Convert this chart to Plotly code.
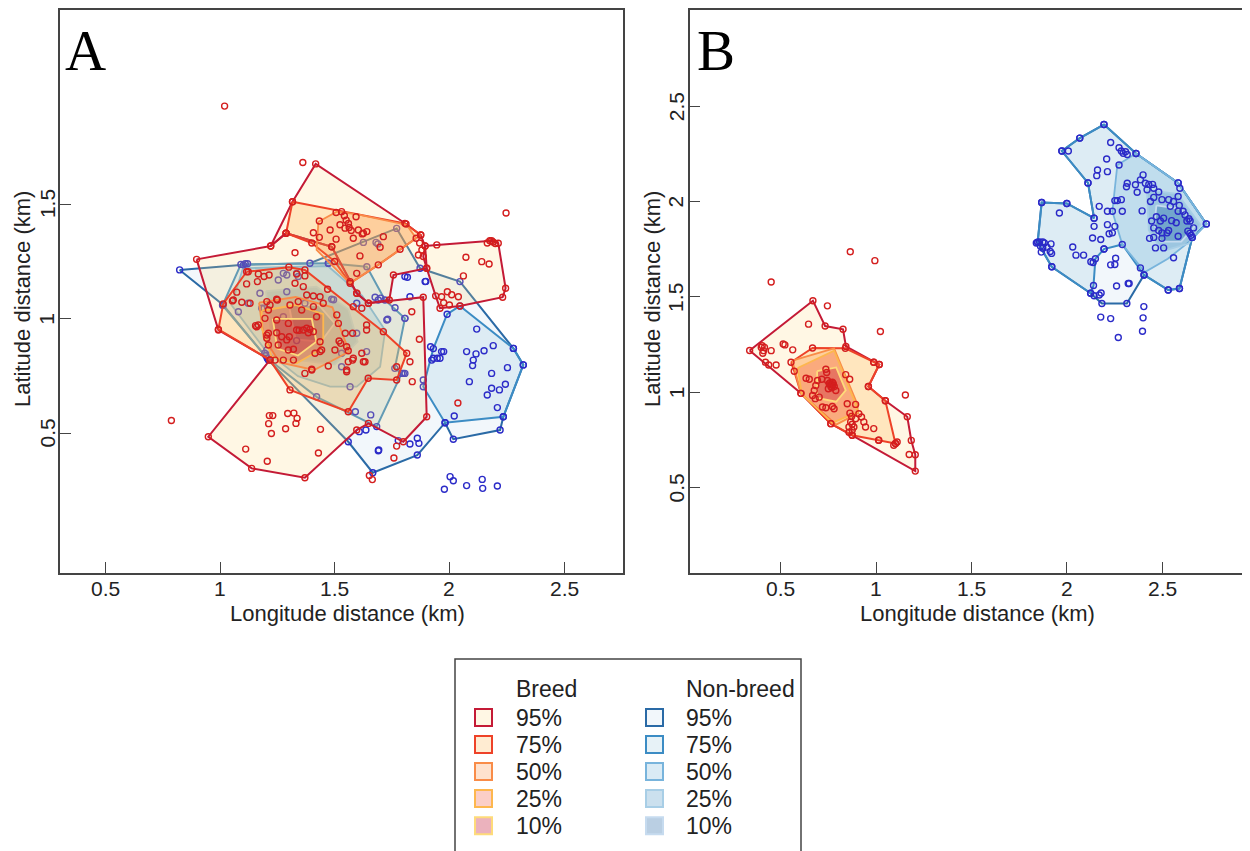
import plotly.graph_objects as go

FONT = "Arial, 'Liberation Sans', sans-serif"
SERIF = "'Times New Roman', 'Liberation Serif', serif"

# ---------------- Panel A : breeding season hulls (km) ----------------
A_B95_TOP = [(1.221,1.317),(1.316,1.510),(1.417,1.675),(1.811,1.413),(1.875,1.365),(1.894,1.317),
             (1.886,1.271),(1.901,1.220),(1.756,1.191),(1.738,1.082),(1.647,1.068),(1.596,1.111),
             (1.487,1.314),(1.288,1.373)]
A_B95_MAIN = [(0.898,1.259),(1.221,1.317),(1.288,1.373),(1.487,1.314),(1.596,1.111),(1.647,1.068),
              (1.886,1.094),(1.901,0.573),(1.799,0.464),(1.647,0.544),(1.596,0.515),(1.370,0.307),
              (1.138,0.348),(0.949,0.486),(1.218,0.821),(0.993,0.951)]
A_B95_EAST = [(1.894,1.317),(1.945,1.322),(2.184,1.340),(2.213,1.329),(2.245,1.133),(2.232,1.094),
              (2.046,1.056),(1.959,1.046),(1.940,1.100),(1.901,1.220)]
A_B75_TOP = [(1.316,1.510),(1.806,1.416),(1.875,1.365),(1.855,1.351),(1.690,1.235),(1.567,1.155),
             (1.500,1.250),(1.400,1.330),(1.288,1.373)]
A_B75_CORE = [(1.116,1.205),(1.300,1.225),(1.370,1.213),(1.712,0.944),(1.814,0.850),(1.770,0.733),
              (1.646,0.741),(1.559,0.595),(1.305,0.690),(1.218,0.820),(0.993,0.954),(1.014,1.065)]
A_B50_TOP = [(1.429,1.423),(1.509,1.467),(1.600,1.455),(1.814,1.409),(1.855,1.351),(1.690,1.235),
             (1.567,1.155),(1.421,1.300)]
A_B50_CORE = [(1.170,1.070),(1.330,1.095),(1.490,1.050),(1.520,0.970),(1.563,0.857),(1.509,0.828),
              (1.410,0.777),(1.260,0.810),(1.190,0.920)]
A_B25 = [(1.182,1.035),(1.330,1.060),(1.450,1.020),(1.450,0.920),(1.436,0.864),(1.334,0.806),
         (1.225,0.835),(1.182,0.960)]
A_B10 = [(1.230,1.000),(1.400,1.000),(1.420,0.900),(1.340,0.840),(1.250,0.870)]

# ---------------- Panel A : non-breeding season hulls (km) ----------------
A_N95 = [(0.824,1.213),(1.102,1.235),(1.392,1.242),(1.770,1.394),(1.872,1.220),(2.046,1.162),
         (2.279,0.871),(2.322,0.799),(2.235,0.573),(2.221,0.515),(2.017,0.475),(1.981,0.547),
         (1.860,0.406),(1.666,0.329),(1.559,0.464),(1.211,0.820),(1.014,1.060)]
A_N75_EAST = [(2.046,1.056),(2.279,0.871),(2.322,0.799),(2.235,0.573),(1.981,0.547),(1.886,0.704),
              (1.930,0.870),(1.990,1.020)]
A_N75_CORE = [(1.091,1.237),(1.473,1.242),(1.640,1.227),(1.719,1.082),(1.806,1.002),(1.762,0.784),
              (1.792,0.762),(1.683,0.530),(1.421,0.660),(1.206,0.828),(1.011,1.059)]
A_N50 = [(1.100,1.220),(1.470,1.230),(1.620,1.100),(1.720,0.950),(1.698,0.791),(1.596,0.704),
         (1.480,0.704),(1.340,0.750),(1.200,0.860),(1.050,1.060)]
A_N25 = [(1.200,1.120),(1.420,1.140),(1.560,1.040),(1.600,0.900),(1.500,0.800),(1.340,0.820),(1.220,0.950)]
A_N10 = [(1.300,1.060),(1.430,1.060),(1.500,0.980),(1.440,0.900),(1.330,0.910)]

# ---------------- Panel A : fixes ----------------
A_RED = [(1.020,1.927),(0.788,0.557),(1.361,1.681),(2.247,1.461),(2.037,0.633),(1.651,0.317),(1.664,0.299),
         (1.758,0.393),(1.770,0.445),
         (1.215,0.578),(1.230,0.578),(1.212,0.543),(1.295,0.587),(1.322,0.589),(1.286,0.521),(1.336,0.566),
         (1.331,0.544),(1.224,0.500),(1.112,0.432),(1.206,0.379),(1.438,0.518),(1.429,0.415),
         (2.072,1.268),(2.141,1.249),(2.173,1.239),(2.176,1.340),(2.190,1.335),(2.200,1.328),(2.165,1.330),
         (2.061,1.187),(1.991,1.118),(2.010,1.105),(2.039,1.096),(1.966,1.096),(1.975,1.070),(2.000,1.060),
         (1.865,1.278),(1.869,0.911),(1.828,0.813),(1.838,0.726),(1.836,1.031),
         (1.433,1.426),(1.506,1.463),(1.530,1.467),(1.542,1.449),(1.550,1.430),(1.560,1.415),(1.563,1.398),
         (1.545,1.395),(1.572,1.385),(1.593,1.445),(1.480,1.387),(1.407,1.375),(1.433,1.355),(1.506,1.347),
         (1.603,1.387),(1.620,1.370),(1.640,1.380),(1.581,1.351),(1.712,1.358),(1.698,1.312),(1.785,1.303),
         (1.610,1.274),(1.327,1.288),(1.880,1.300),(1.870,1.330),(1.596,1.198),(1.567,1.162),(1.625,1.373),
         (1.523,1.410),(1.469,1.129),
         (1.123,1.205),(1.167,1.195),(1.192,1.184),(1.214,1.191),(1.163,1.162),(1.116,1.152),(1.073,1.116),
         (1.054,1.078),(1.095,1.072),(1.131,1.068),(1.204,1.075),(1.247,1.085),(1.305,1.060),(1.341,1.075),
         (1.370,1.187),(1.334,1.195),(1.327,1.155),(1.363,1.140),(1.407,1.099),(1.436,1.096),(1.450,1.068),
         (1.581,1.053),(1.618,1.046),(1.639,0.973),(1.639,0.951),(1.578,0.937),(1.546,0.937),(1.519,0.903),
         (1.526,0.893),(1.501,0.864),(1.559,0.861),(1.581,0.828),(1.559,0.813),(1.552,0.777),(1.625,0.813),
         (1.436,0.857),(1.414,0.850),(1.400,0.777),(1.370,0.762),(1.320,0.820),(1.276,0.820),(1.240,0.820),
         (1.247,0.939),(1.211,0.937),(1.204,0.915),(1.196,1.002),(1.167,0.973),(1.160,0.965),(1.155,0.970),
         (1.298,0.980),(1.334,0.951),(1.345,0.950),(1.363,0.951),(1.378,0.959),(1.392,0.954),(1.407,0.944),
         (1.385,0.939),(1.269,0.922),(1.302,0.922),(1.291,0.908),(1.320,0.867),(1.211,0.886),(1.407,1.053),
         (1.421,1.009),(1.247,0.995),(1.211,1.038),(1.472,0.794),(1.436,0.900),(1.356,1.038),
         (1.058,1.082),(1.218,1.060),(1.250,1.082),(1.378,1.104),(1.509,1.017),(1.516,0.980),(1.552,0.878),
         (1.578,0.820),(1.618,0.850),(1.632,0.813),(1.552,0.769),(1.443,0.864),(1.400,0.780),(1.298,0.864),
         (1.254,0.886),(1.204,0.929),(1.770,0.791)]
A_BLUE = [(2.119,0.955),(2.191,0.883),(2.151,0.861),(2.116,0.847),(2.104,0.820),(2.101,0.796),(2.075,0.857),
          (2.253,0.787),(2.184,0.762),(2.087,0.726),(2.244,0.715),(2.184,0.697),(2.218,0.690),(2.165,0.668),
          (2.209,0.613),(2.021,0.576),(1.918,0.878),(1.966,0.857),(1.975,0.857),(1.923,0.820),(1.947,0.828),
          (1.817,1.181),(1.897,1.163),(1.828,1.096),(1.676,1.094),(1.690,1.082),(1.700,1.090),(1.731,0.998),
          (1.806,1.002),(1.799,0.762),(1.886,0.733),(1.625,1.333),(1.680,1.333),(1.688,1.326),(1.472,1.242),
          (1.806,1.184),(1.894,1.162),
          (1.590,0.595),(1.657,0.581),(1.636,0.515),(1.607,0.508),(1.690,0.425),(1.692,0.428),(1.777,0.469),
          (1.828,0.454),(1.860,0.479),(1.867,0.457),(1.978,0.257),(2.003,0.312),(2.017,0.294),(2.075,0.273),
          (2.143,0.300),(2.145,0.261),(2.209,0.271),
          (1.110,1.240),(1.120,1.240),(1.276,1.198),(1.291,1.191),(1.334,1.198),(1.341,1.184),(1.254,1.169),
          (1.174,1.111),(1.123,1.068),(1.080,1.031),(1.182,1.046),(1.192,1.046),(1.291,1.118),(1.370,1.068),
          (1.276,1.009),(1.487,1.085),(1.495,1.083),(1.596,1.068),(1.596,0.937),(1.639,0.857),(1.530,0.850),
          (1.530,0.791),(1.334,0.905),(1.204,0.864),(1.200,0.840),(1.195,0.850),(1.727,0.995),(1.763,1.048),
          (1.567,0.704),(1.806,0.762),(1.930,0.828),(1.959,0.828)]

# ---------------- Panel B : breeding season ----------------
B_B95 = [(0.336,1.219),(0.668,1.480),(0.732,1.347),(0.826,1.330),(0.841,1.240),(0.987,1.157),(1.016,1.145),
         (0.959,1.030),(1.048,0.955),(1.163,0.871),(1.184,0.747),(1.205,0.672),(1.205,0.586),(0.874,0.774),
         (0.762,0.835),(0.605,0.994)]
B_B75 = [(0.553,1.157),(0.666,1.232),(0.838,1.230),(0.987,1.157),(1.016,1.145),(0.959,1.030),(1.048,0.955),
         (1.101,0.731),(1.013,0.748),(0.874,0.774),(0.762,0.835),(0.605,0.994),(0.570,1.110)]
B_B50 = [(0.560,1.165),(0.779,1.230),(0.900,0.940),(0.905,0.890),(0.790,0.830),(0.605,0.994)]
B_B25 = [(0.588,1.127),(0.779,1.218),(0.892,0.939),(0.901,0.896),(0.769,0.839),(0.610,0.990)]
B_B10 = [(0.690,1.110),(0.790,1.130),(0.840,1.010),(0.790,0.950),(0.690,0.970)]
B_RED = [(0.449,1.578),(0.744,1.453),(0.645,1.357),(1.022,1.318),(1.153,0.985),(0.864,1.737),(0.993,1.690),
         (0.402,1.244),(0.414,1.235),(0.409,1.218),(0.405,1.204),(0.397,1.235),(0.449,1.218),(0.475,1.143),
         (0.436,1.143),(0.419,1.157),(0.512,1.253),(0.521,1.248),(0.562,1.222),
         (0.736,1.120),(0.740,1.103),(0.632,1.073),(0.649,1.068),(0.715,1.068),(0.692,1.061),(0.744,1.061),
         (0.753,1.044),(0.770,1.052),(0.762,1.030),(0.788,1.009),(0.840,1.092),(0.861,1.068),(0.683,1.035),
         (0.675,1.009),(0.666,0.983),(0.680,0.966),(0.701,0.974),(0.718,0.922),(0.736,0.918),(0.770,0.925),
         (0.779,0.913),(0.862,0.890),(0.871,0.873),(0.909,0.887),(0.923,0.870),(0.892,0.861),(0.866,0.844),
         (0.874,0.832),(0.857,0.817),(0.883,0.817),(0.935,0.844),(0.944,0.817),(0.987,0.809),(1.013,0.748),
         (1.101,0.731),(1.110,0.739),(1.092,0.722),(0.848,0.939),(0.892,0.936),(0.762,1.040),(0.767,1.023),
         (0.749,1.018),(1.173,0.673),(0.772,1.038),(0.758,1.050),(0.775,1.045),(0.780,1.030),(0.857,0.790),
         (0.874,0.800)]

# ---------------- Panel B : non-breeding season ----------------
B_N95 = [(2.195,2.404),(2.363,2.252),(2.584,2.098),(2.732,1.883),(2.658,1.812),(2.591,1.544),(2.532,1.536),
         (2.405,1.615),(2.315,1.465),(2.184,1.465),(2.125,1.519),(1.921,1.658),(1.847,1.787),(1.868,1.995),
         (2.000,1.990),(2.143,1.913),(2.111,2.098),(1.974,2.265),(2.068,2.333)]
B_N75 = [(2.068,2.333),(2.195,2.404),(2.363,2.252),(2.584,2.098),(2.732,1.883),(2.658,1.812),(2.591,1.544),
         (2.532,1.536),(2.405,1.615),(2.291,1.775),(2.195,1.751),(2.150,1.700),(2.140,1.560),(2.125,1.519),
         (1.921,1.658),(1.847,1.787),(1.868,1.995),(2.000,1.990),(2.143,1.913),(2.111,2.098),(1.974,2.265)]
B_N50 = [(2.265,2.192),(2.363,2.252),(2.584,2.098),(2.732,1.883),(2.656,1.800),(2.530,1.700),(2.410,1.630),
         (2.291,1.775),(2.239,1.948)]
B_N25 = [(2.420,2.060),(2.580,2.040),(2.700,1.880),(2.640,1.780),(2.500,1.740),(2.430,1.850)]
B_N10 = [(2.470,1.980),(2.600,1.960),(2.670,1.870),(2.600,1.790),(2.490,1.790),(2.460,1.880)]
B_BLUE = [(2.008,2.265),(2.230,2.310),(2.274,2.282),(2.286,2.265),(2.296,2.253),(2.308,2.261),(2.317,2.247),
          (2.209,2.223),(2.161,2.166),(2.213,2.157),(2.157,2.136),(2.274,2.192),
          (2.400,2.140),(2.317,2.096),(2.360,2.088),(2.386,2.114),(2.412,2.096),(2.430,2.090),(2.450,2.090),
          (2.456,2.070),(2.482,2.050),(2.456,2.022),(2.421,2.062),(2.369,2.049),(2.313,2.078),(2.499,2.010),
          (2.534,2.010),(2.560,2.000),(2.593,2.070),(2.584,2.027),(2.590,1.980),(2.543,1.975),(2.584,1.949),
          (2.610,1.949),(2.620,1.930),(2.640,1.910),(2.647,1.898),(2.630,1.898),(2.665,1.862),(2.635,1.845),
          (2.645,1.833),(2.652,1.823),(2.584,1.818),(2.550,1.900),(2.574,1.889),(2.508,1.913),(2.491,1.898),
          (2.470,1.920),(2.445,1.898),(2.456,1.862),(2.482,1.848),(2.499,1.836),(2.526,1.836),(2.534,1.848),
          (2.456,1.812),(2.499,1.807),(2.434,1.807),(2.465,1.757),(2.508,1.757),(2.560,1.705),(2.439,2.000),
          (2.395,1.951),(2.252,2.005),(2.265,2.005),(2.286,2.010),(2.239,1.949),(2.291,1.949),(2.213,1.949),
          (2.170,1.975),
          (2.143,1.870),(2.213,1.879),(2.252,1.870),(2.239,1.836),(2.222,1.831),(2.135,1.809),(2.178,1.801),
          (2.031,1.762),(2.048,1.719),(2.088,1.719),(2.126,1.684),(2.138,1.680),(2.195,1.751),(2.256,1.703),
          (2.230,1.668),(2.252,1.670),(1.961,1.940),
          (1.840,1.783),(1.857,1.788),(1.874,1.788),(1.882,1.783),(1.862,1.766),(1.874,1.755),(1.896,1.761),
          (1.917,1.778),(1.920,1.728),(1.913,1.738),(1.866,1.735),
          (2.170,1.510),(2.180,1.520),(2.143,1.506),(2.261,1.557),(2.322,1.570),(2.327,1.570),(2.386,1.652),
          (2.404,1.449),(2.400,1.390),(2.397,1.320),(2.178,1.394),(2.230,1.386),(2.270,1.287)]

# ---------------- styling ----------------
LEVELS = ["95%", "75%", "50%", "25%", "10%"]
BREED_LINE = ["#C41A36", "#EE4228", "#F98C48", "#FDB74E", "#FEDB7A"]
BREED_FILL = ["rgba(254,217,118,0.2)", "rgba(254,178,76,0.25)", "rgba(253,141,60,0.25)",
              "rgba(240,59,32,0.25)", "rgba(189,0,38,0.3)"]
NB_LINE = ["#2A6AA6", "#3C8CC4", "#78B4DC", "#A8CEE6", "#C6DBEF"]
NB_FILL = ["rgba(198,219,239,0.22)", "rgba(158,202,225,0.25)", "rgba(107,174,214,0.25)",
           "rgba(49,130,189,0.25)", "rgba(8,81,156,0.28)"]
RED_PT = "#D41E1E"
BLUE_PT = "#2B2BC8"

A_BREED = [[A_B95_TOP, A_B95_MAIN, A_B95_EAST], [A_B75_TOP, A_B75_CORE], [A_B50_TOP, A_B50_CORE], [A_B25], [A_B10]]
A_NB = [[A_N95], [A_N75_EAST, A_N75_CORE], [A_N50], [A_N25], [A_N10]]
B_BREED = [[B_B95], [B_B75], [B_B50], [B_B25], [B_B10]]
B_NB = [[B_N95], [B_N75], [B_N50], [B_N25], [B_N10]]

fig = go.Figure()


def add_poly(pts, line, fill, xa, ya, width):
    xs = [p[0] for p in pts] + [pts[0][0]]
    ys = [p[1] for p in pts] + [pts[0][1]]
    fig.add_trace(go.Scatter(x=xs, y=ys, mode="lines", fill="toself", fillcolor=fill,
                             line=dict(color=line, width=width), xaxis=xa, yaxis=ya,
                             hoverinfo="skip", showlegend=False))


def add_pts(pts, color, xa, ya):
    fig.add_trace(go.Scatter(x=[p[0] for p in pts], y=[p[1] for p in pts], mode="markers",
                             marker=dict(symbol="circle-open", size=6, color=color,
                                         line=dict(width=1.4, color=color)),
                             xaxis=xa, yaxis=ya, hoverinfo="skip", showlegend=False))


for panel_breed, panel_nb, red, blue, xa, ya in [(A_BREED, A_NB, A_RED, A_BLUE, "x", "y"),
                                                 (B_BREED, B_NB, B_RED, B_BLUE, "x2", "y2")]:
    for i, polys in enumerate(panel_nb):
        for p in polys:
            add_poly(p, NB_LINE[i], NB_FILL[i], xa, ya, 2.0 if i < 2 else 1.8)
    blue_all = list(blue) + [v for polys in panel_nb[:2] for p in polys for v in p]
    add_pts(blue_all, BLUE_PT, xa, ya)
    for i, polys in enumerate(panel_breed):
        for p in polys:
            add_poly(p, BREED_LINE[i], BREED_FILL[i], xa, ya, 2.0 if i < 2 else 1.8)
    red_all = list(red) + [v for polys in panel_breed[:2] for p in polys for v in p]
    add_pts(red_all, RED_PT, xa, ya)

# page is shown with an 8 px body margin, so layout pixels are page pixels minus OFF
OFF = 8
W, H = 1250 - OFF, 851 - OFF


def px(v):
    return (v - OFF) / W


def py(v):
    return 1 - (v - OFF) / H


axis_common = dict(showgrid=False, zeroline=False, showline=True, linecolor="#444", linewidth=1.5,
                   ticks="inside", ticklen=11, tickwidth=1.3, tickcolor="#444", showticklabels=False)
TICKS = [0.5, 1, 1.5, 2, 2.5]
TICKTXT = ["0.5", "1", "1.5", "2", "2.5"]
A_YTICKS = [0.5, 1, 1.5]

fig.update_layout(
    width=W, height=H, margin=dict(l=0, r=0, t=0, b=0),
    paper_bgcolor="white", plot_bgcolor="white", showlegend=False,
    xaxis=dict(domain=[px(60), px(623.3)], range=[0.3025, 2.758], mirror=True, anchor="y",
               tickvals=TICKS, **axis_common),
    yaxis=dict(domain=[py(573), py(10.2)], range=[-0.108, 2.345], mirror=True, anchor="x",
               tickvals=A_YTICKS, **axis_common),
    xaxis2=dict(domain=[px(689.5), 1.0], range=[0.0205, 2.961], mirror=True, anchor="y2",
                tickvals=TICKS, **axis_common),
    yaxis2=dict(domain=[py(573), py(10.2)], range=[0.0514, 3.004], mirror=False, anchor="x2",
                tickvals=TICKS, **axis_common),
)

TICKFONT = dict(family=FONT, size=21, color="#222")
ann = []
# tick labels, placed on the axis scales
for t, s in zip(TICKS, TICKTXT):
    for xr in ("x", "x2"):
        ann.append(dict(x=t, y=py(588), xref=xr, yref="paper", text=s, showarrow=False,
                        xanchor="center", yanchor="middle", font=TICKFONT))
    ann.append(dict(x=px(676), y=t, xref="paper", yref="y2", text=s, showarrow=False, textangle=-90,
                    xanchor="center", yanchor="middle", font=TICKFONT))
for t, s in zip(A_YTICKS, TICKTXT[:3]):
    ann.append(dict(x=px(47), y=t, xref="paper", yref="y", text=s, showarrow=False, textangle=-90,
                    xanchor="center", yanchor="middle", font=TICKFONT))
# axis titles
for cx in (347, 977.6):
    ann.append(dict(x=px(cx), y=py(613.5), text="Longitude distance (km)", showarrow=False,
                    xref="paper", yref="paper", xanchor="center", yanchor="middle",
                    font=dict(family=FONT, size=22, color="#222")))
for cx in (22, 652):
    ann.append(dict(x=px(cx), y=py(299), text="Latitude distance (km)", showarrow=False,
                    xref="paper", yref="paper", xanchor="center", yanchor="middle", textangle=-90,
                    font=dict(family=FONT, size=22, color="#222")))
# panel letters
for cx, letter in ((85, "A"), (716, "B")):
    ann.append(dict(x=px(cx), y=py(51), text=letter, showarrow=False, xref="paper", yref="paper",
                    xanchor="center", yanchor="middle", font=dict(family=SERIF, size=57, color="#000")))

shapes = []
# legend box
shapes.append(dict(type="rect", xref="paper", yref="paper", x0=px(455), x1=px(801), y0=-0.05, y1=py(659),
                   line=dict(color="#444", width=1.5), fillcolor="rgba(0,0,0,0)"))
ROW_Y = [717.6, 744.6, 771.6, 798.6, 825.7]
for col_sq, col_tx, header, lines, fills in ((483.5, 513.5, "Breed", BREED_LINE, BREED_FILL),
                                             (654.5, 683.8, "Non-breed", NB_LINE, NB_FILL)):
    ann.append(dict(x=px(col_tx), y=py(689), text=header, showarrow=False, xref="paper", yref="paper",
                    xanchor="left", yanchor="middle", font=dict(family=FONT, size=23, color="#222")))
    for i, lvl in enumerate(LEVELS):
        ry = ROW_Y[i]
        shapes.append(dict(type="rect", xref="paper", yref="paper",
                           x0=px(col_sq - 8.5), x1=px(col_sq + 8.5),
                           y0=py(ry + 8.5), y1=py(ry - 8.5),
                           line=dict(color=lines[i], width=2), fillcolor=fills[i]))
        ann.append(dict(x=px(col_tx), y=py(ry), text=lvl, showarrow=False, xref="paper", yref="paper",
                        xanchor="left", yanchor="middle", font=dict(family=FONT, size=23, color="#222")))

fig.update_layout(annotations=ann, shapes=shapes)
fig.write_html("out.html")
